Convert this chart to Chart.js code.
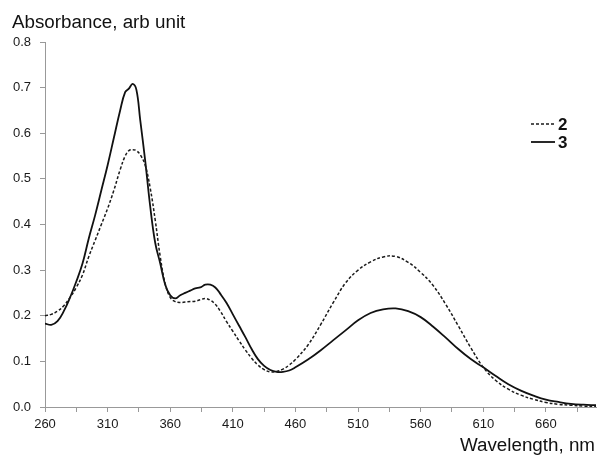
<!DOCTYPE html>
<html>
<head>
<meta charset="utf-8">
<script src="https://cdn.jsdelivr.net/npm/chart.js@4/dist/chart.umd.min.js"></script>
<style>
  html, body { margin: 0; padding: 0; background: #fff; }
  #wrap { width: 597px; height: 456px; position: relative; }
</style>
</head>
<body>
<div id="wrap"><canvas id="c" width="597" height="456"></canvas></div>
<script>
// ---- data ----
const wavelengths = [260,265,270,275,280,285,290,295,300,305,310,315,320,324,327,330,333,336,340,344,348,352,356,360,364,368,372,376,380,384,388,392,396,400,405,410,415,420,425,430,435,440,445,450,455,460,470,480,490,500,510,520,530,540,550,560,570,580,590,600,610,620,630,640,650,660,670,680,690,700];
const series2 = [0.200,0.203,0.210,0.222,0.240,0.262,0.290,0.330,0.365,0.400,0.435,0.475,0.520,0.550,0.562,0.564,0.562,0.553,0.530,0.480,0.410,0.330,0.270,0.240,0.231,0.229,0.230,0.231,0.232,0.235,0.238,0.234,0.225,0.210,0.187,0.166,0.145,0.125,0.107,0.092,0.082,0.077,0.078,0.083,0.092,0.104,0.136,0.180,0.228,0.272,0.300,0.318,0.329,0.330,0.317,0.295,0.266,0.225,0.178,0.130,0.087,0.058,0.039,0.026,0.017,0.010,0.006,0.004,0.002,0.001];
const series3 = [0.183,0.180,0.188,0.210,0.240,0.275,0.315,0.370,0.420,0.475,0.530,0.590,0.650,0.690,0.698,0.708,0.695,0.630,0.540,0.440,0.360,0.315,0.268,0.245,0.238,0.245,0.250,0.255,0.260,0.262,0.268,0.268,0.262,0.248,0.228,0.203,0.178,0.153,0.127,0.105,0.090,0.081,0.077,0.077,0.080,0.087,0.104,0.124,0.146,0.168,0.190,0.206,0.214,0.216,0.210,0.197,0.176,0.152,0.127,0.105,0.087,0.068,0.050,0.036,0.025,0.016,0.011,0.007,0.005,0.004];
const seriesNames = ['2', '3'];
const xTickLabels = [260, 310, 360, 410, 460, 510, 560, 610, 660];
const yTickLabels = ['0.0','0.1','0.2','0.3','0.4','0.5','0.6','0.7','0.8'];
const yTitle = 'Absorbance, arb unit';
const xTitle = 'Wavelength, nm';

const toXY = (vals) => wavelengths.map((x, i) => ({ x: x, y: vals[i] }));

const FONT = "'Liberation Sans', Arial, sans-serif";

const extraText = {
  id: 'extraText',
  afterDraw(chart) {
    const ctx = chart.ctx;
    ctx.save();
    ctx.fillStyle = '#111';
    ctx.font = '18.8px ' + FONT;
    ctx.textBaseline = 'alphabetic';
    ctx.textAlign = 'left';
    ctx.fillText(yTitle, 12, 28);
    ctx.textAlign = 'right';
    ctx.fillText(xTitle, 595, 451);

    // legend
    const items = chart.data.datasets;
    const rows = [124, 142];
    items.forEach((ds, i) => {
      const y = rows[i];
      ctx.beginPath();
      ctx.setLineDash(ds.borderDash || []);
      ctx.lineWidth = ds.borderWidth;
      ctx.strokeStyle = ds.borderColor;
      ctx.moveTo(531, y);
      ctx.lineTo(555, y);
      ctx.stroke();
      ctx.setLineDash([]);
      ctx.font = 'bold 17px ' + FONT;
      ctx.textAlign = 'left';
      ctx.textBaseline = 'middle';
      ctx.fillStyle = '#111';
      ctx.fillText(ds.label, 558, y + 1);
    });
    ctx.restore();
  }
};

new Chart(document.getElementById('c'), {
  type: 'line',
  data: {
    datasets: [
      { label: seriesNames[0], data: toXY(series2), borderColor: '#1a1a1a', borderWidth: 1.5, borderDash: [3, 2], pointRadius: 0, tension: 0.4, fill: false },
      { label: seriesNames[1], data: toXY(series3), borderColor: '#111', borderWidth: 1.8, pointRadius: 0, tension: 0.4, fill: false }
    ]
  },
  options: {
    responsive: false,
    animation: false,
    devicePixelRatio: 1,
    layout: { padding: { top: 42, right: 1, left: 0, bottom: 0 } },
    plugins: { legend: { display: false }, tooltip: { enabled: false }, title: { display: false } },
    scales: {
      x: {
        type: 'linear',
        min: 260, max: 700,
        afterBuildTicks: (s) => {
          const t = [];
          for (let v = xTickLabels[0]; v <= s.max; v += 25) t.push({ value: v });
          s.ticks = t;
        },
        afterFit: (s) => { s.height = 49; },
        ticks: {
          autoSkip: false,
          maxRotation: 0,
          padding: 5,
          color: '#1a1a1a',
          font: { family: FONT, size: 13 },
          callback: (v) => (xTickLabels.includes(v) ? String(v) : '')
        },
        grid: { drawOnChartArea: false, drawTicks: true, tickLength: 5, color: '#999' },
        border: { display: true, color: '#999', width: 1 }
      },
      y: {
        min: 0, max: 0.8,
        afterFit: (s) => { s.width = 45; },
        afterBuildTicks: (s) => { s.ticks = yTickLabels.map(l => ({ value: parseFloat(l) })); },
        ticks: {
          padding: 9,
          color: '#1a1a1a',
          font: { family: FONT, size: 13 },
          callback: (v, i) => yTickLabels[i]
        },
        grid: { drawOnChartArea: false, drawTicks: true, tickLength: 5, color: '#999' },
        border: { display: true, color: '#999', width: 1 }
      }
    }
  },
  plugins: [extraText]
});
</script>
</body>
</html>
